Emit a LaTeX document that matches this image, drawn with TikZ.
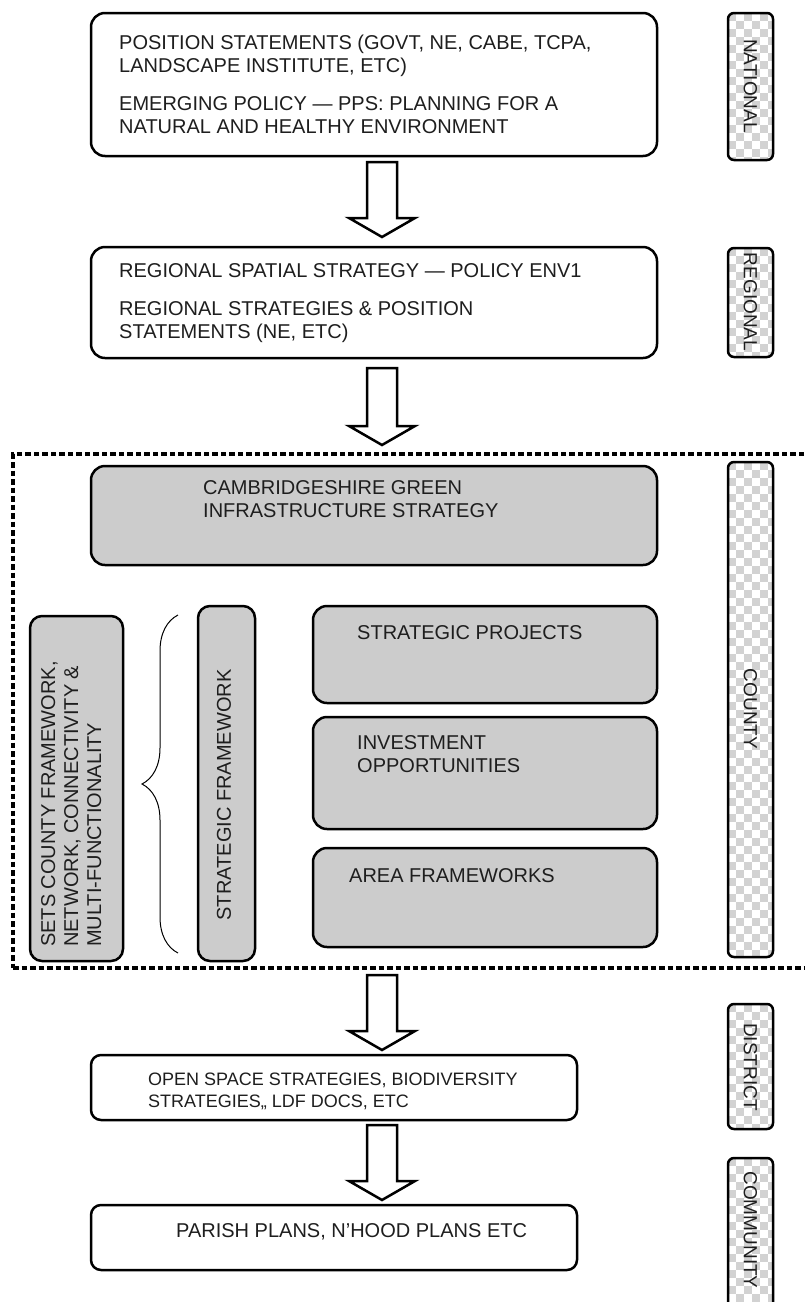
\documentclass[tikz,border=0pt]{standalone}
\usepackage{fontspec}
\setmainfont{Liberation Sans}
\usetikzlibrary{calc,decorations.pathreplacing}
\definecolor{boxgrey}{HTML}{CCCCCC}
\definecolor{checkgrey}{HTML}{D2D2D2}
\definecolor{inkgrey}{HTML}{1E1E1E}
\tikzset{
  plan box/.style={draw=black, line width=2.5pt, rounded corners=14pt, fill=white,
        anchor=north west, inner sep=0pt, outer sep=0pt},
  grey box/.style={plan box, fill=boxgrey},
  box text/.style={anchor=north west, inner sep=0pt, align=left, text=inkgrey,
        font=\fontsize{20}{23}\selectfont},
  level tag/.style={draw=black, line width=2.5pt, rounded corners=6pt,
        minimum width=45pt, inner sep=0pt, outer sep=0pt},
  tag text/.style={rotate=-90, inner sep=0pt, text=inkgrey, font=\fontsize{19}{22}\selectfont},
  block arrow/.style={draw=black, line width=2.5pt, fill=white, line join=miter},
  county line/.style={draw=black, line width=4.5pt, dash pattern=on 5.5pt off 3pt}
}
\def\LevelTag#1#2#3#4#5{%
  \begin{scope}
    \clip[rounded corners=6pt] (728,-#2) rectangle (773,-#3);
    \pgfmathtruncatemacro\tagrows{(#3-#2)/16}
    \foreach \r in {0,...,\tagrows}
      \foreach \c in {0,1,2}{
        \fill[checkgrey] (728+16*\c,-#2-16*\r) rectangle ++(8,-8);
        \fill[checkgrey] (736+16*\c,-#2-8-16*\r) rectangle ++(8,-8);
      }
  \end{scope}
  \node[level tag, minimum height=#3-#2] (#1) at (750.5,{-(#2+#3)/2}) {};
  \node[tag text] (#1 text) at (750.5,-#4) {#5};
}
\def\DownArrow#1#2#3#4{%
  \draw[block arrow] let \p1=(#1.south), \p2=(#2.north) in
    (367,\y1-#3) -- (397,\y1-#3) -- (397,\y2+#4+19pt) -- (415,\y2+#4+19pt)
    -- (382,\y2+#4) -- (349,\y2+#4+19pt) -- (367,\y2+#4+19pt) -- cycle;
}
\begin{document}
\begin{tikzpicture}[x=1pt, y=1pt]
\useasboundingbox (0,0) rectangle (805,-1302);
% national and regional
\node[plan box, minimum width=566pt, minimum height=143pt] (nat) at (91,-13) {};
\node[box text] (nat text) at ($(nat.north west)+(28,-22)$)
  {POSITION STATEMENTS (GOVT, NE, CABE, TCPA,\\LANDSCAPE INSTITUTE, ETC)\\[15pt]
   EMERGING POLICY — PPS: PLANNING FOR A\\NATURAL AND HEALTHY ENVIRONMENT};
\node[plan box, minimum width=566pt, minimum height=111pt] (reg) at (91,-247) {};
\node[box text] (reg text) at ($(reg.north west)+(28,-16)$)
  {REGIONAL SPATIAL STRATEGY — POLICY ENV1\\[15pt]
   REGIONAL STRATEGIES \& POSITION\\STATEMENTS (NE, ETC)};
% county
\node[county line, anchor=north west, minimum width=810pt, minimum height=514pt,
  inner sep=0pt, outer sep=0pt] (county) at (13,-454) {};
\node[grey box, minimum width=566pt, minimum height=99pt] (camb) at (91,-466) {};
\node[box text] (camb text) at ($(camb.north west)+(112,-14)$)
  {CAMBRIDGESHIRE GREEN\\INFRASTRUCTURE STRATEGY};
\node[grey box, rounded corners=12pt, minimum width=93pt, minimum height=345pt] (sets) at (30,-616) {};
\node[box text, rotate=90] (sets text) at ($(sets.south west)+(11,14)$)
  {SETS COUNTY FRAMEWORK,\\NETWORK, CONNECTIVITY \&\\MULTI-FUNCTIONALITY};
\coordinate (brace bot) at (178,-953);
\coordinate (brace top) at (178,-615);
\draw[line width=1pt, decorate, decoration={brace, amplitude=36pt}] (brace bot) -- (brace top);
\node[grey box, rounded corners=12pt, minimum width=57pt, minimum height=355pt] (stratfw) at (198,-606) {};
\node[box text, rotate=90, anchor=center] (stratfw text) at (224,-795) {STRATEGIC FRAMEWORK};
\node[grey box, minimum width=344pt, minimum height=97pt] (projects) at (313,-606) {};
\node[box text] (projects text) at ($(projects.north west)+(44,-19)$) {STRATEGIC PROJECTS};
\node[grey box, minimum width=344pt, minimum height=112pt] (invest) at (313,-717) {};
\node[box text] (invest text) at ($(invest.north west)+(44,-18)$) {INVESTMENT\\OPPORTUNITIES};
\node[grey box, minimum width=344pt, minimum height=99pt] (areas) at (313,-848) {};
\node[box text] (areas text) at ($(areas.north west)+(36,-20)$) {AREA FRAMEWORKS};
% district and community
\node[plan box, rounded corners=10pt, minimum width=486pt, minimum height=65pt] (dist) at (91,-1055) {};
\node[box text, font=\fontsize{18}{22}\selectfont] (dist text) at ($(dist.north west)+(57,-18)$)
  {OPEN SPACE STRATEGIES, BIODIVERSITY\\STRATEGIES,, LDF DOCS, ETC};
\node[plan box, rounded corners=10pt, minimum width=486pt, minimum height=65pt] (comm) at (91,-1205) {};
\node[box text] (comm text) at ($(comm.north west)+(85,-18)$) {PARISH PLANS, N’HOOD PLANS ETC};
\DownArrow{nat}{reg}{6pt}{10pt}
\DownArrow{reg}{county}{10pt}{9pt}
\DownArrow{county}{dist}{7pt}{5pt}
\DownArrow{dist}{comm}{5pt}{5pt}
\LevelTag{national}{13}{160}{86}{NATIONAL}
\LevelTag{regional}{248}{357}{302}{REGIONAL}
\LevelTag{countytag}{462}{957}{709}{COUNTY}
\LevelTag{district}{1004}{1129}{1067}{DISTRICT}
\LevelTag{community}{1158}{1320}{1230}{COMMUNITY}
\end{tikzpicture}
\end{document}
